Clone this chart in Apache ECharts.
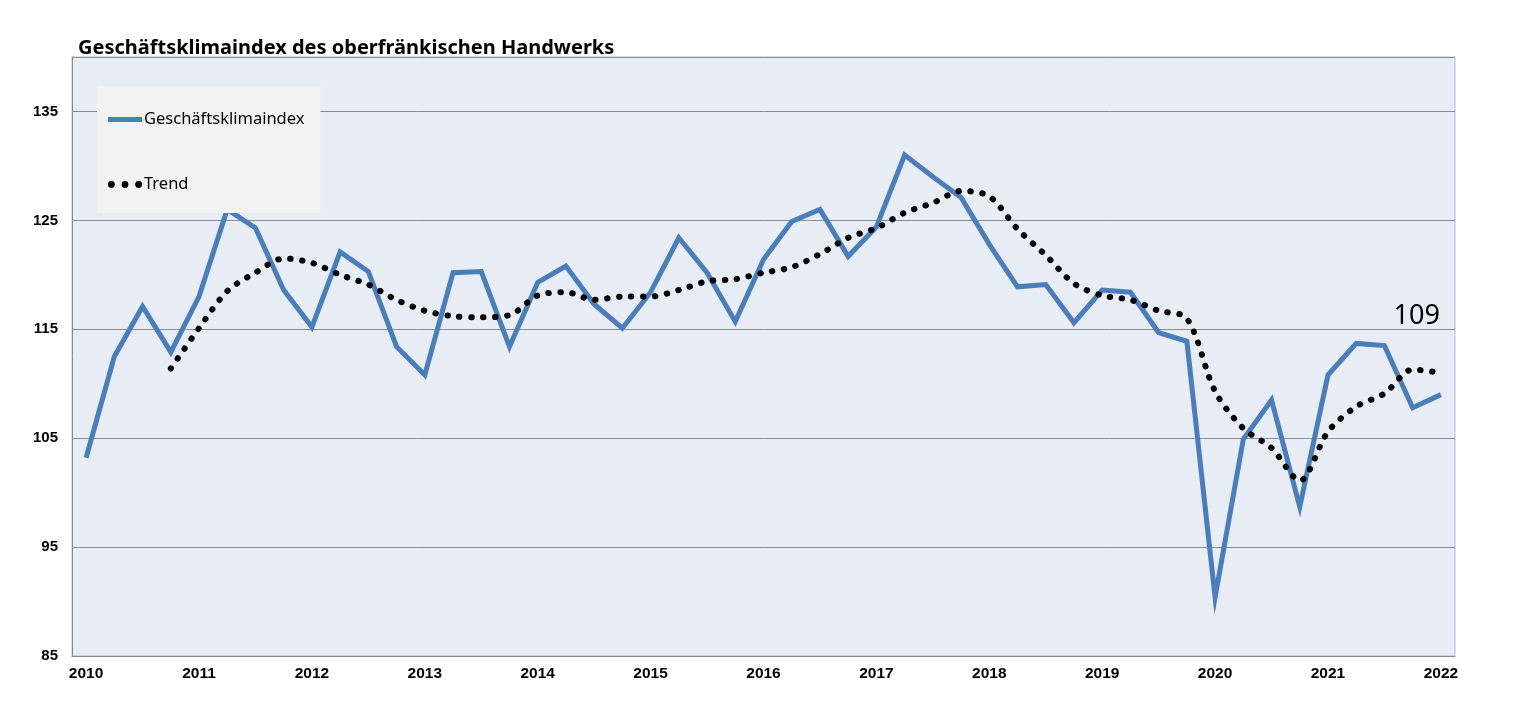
<!DOCTYPE html>
<html>
<head>
<meta charset="utf-8">
<script src="https://cdn.jsdelivr.net/npm/echarts@6/dist/echarts.min.js"></script>
<style>
html,body{margin:0;padding:0;background:#fff;}
#c{width:1520px;height:724px;}
</style>
</head>
<body>
<div id="c"></div>
<script>
const titleText = 'Geschäftsklimaindex des oberfränkischen Handwerks';
const seriesNames = ['Geschäftsklimaindex', 'Trend'];
const categories = [
  '2010 Q1','2010 Q2','2010 Q3','2010 Q4',
  '2011 Q1','2011 Q2','2011 Q3','2011 Q4',
  '2012 Q1','2012 Q2','2012 Q3','2012 Q4',
  '2013 Q1','2013 Q2','2013 Q3','2013 Q4',
  '2014 Q1','2014 Q2','2014 Q3','2014 Q4',
  '2015 Q1','2015 Q2','2015 Q3','2015 Q4',
  '2016 Q1','2016 Q2','2016 Q3','2016 Q4',
  '2017 Q1','2017 Q2','2017 Q3','2017 Q4',
  '2018 Q1','2018 Q2','2018 Q3','2018 Q4',
  '2019 Q1','2019 Q2','2019 Q3','2019 Q4',
  '2020 Q1','2020 Q2','2020 Q3','2020 Q4',
  '2021 Q1','2021 Q2','2021 Q3','2021 Q4',
  '2022 Q1'
];
const klimaindex = [103.2, 112.5, 117.1, 112.9, 118.0, 126.0, 124.3, 118.6, 115.2, 122.1, 120.3, 113.4,
  110.8, 120.2, 120.3, 113.4, 119.3, 120.8, 117.3, 115.1, 118.4, 123.4, 120.2, 115.7,
  121.4, 124.9, 126.0, 121.7, 124.4, 131.0, 129.0, 127.1, 122.8, 118.9, 119.1, 115.6,
  118.6, 118.4, 114.7, 113.9, 90.4, 104.9, 108.5, 98.7, 110.8, 113.7, 113.5, 107.8, 109.0];
const trend = [null, null, null, 111.4, 115.1, 118.5, 120.2, 121.5, 121.1, 120.0, 119.1, 117.7,
  116.7, 116.2, 116.1, 116.3, 118.1, 118.4, 117.7, 118.0, 118.0, 118.6, 119.4, 119.6,
  120.2, 120.7, 121.9, 123.4, 124.3, 125.7, 126.6, 127.7, 127.2, 124.2, 121.8, 119.2,
  118.1, 117.7, 116.7, 116.0, 109.3, 105.9, 104.1, 101.1, 105.6, 107.9, 109.1, 111.3, 111.0];
const yMin = 85, yMax = 140, yStep = 10;

const lastIdx = klimaindex.length - 1;
const dotsIcon = 'path://M3,3m-3,0a3,3 0 1,0 6,0a3,3 0 1,0 -6,0 M15,3m-3,0a3,3 0 1,0 6,0a3,3 0 1,0 -6,0 M27,3m-3,0a3,3 0 1,0 6,0a3,3 0 1,0 -6,0';
const chart = echarts.init(document.getElementById('c'));
chart.setOption({
  animation: false,
  backgroundColor: '#ffffff',
  title: {
    text: titleText,
    left: 73, top: 33,
    textStyle: {fontFamily: 'Noto Sans', fontWeight: 'bold', fontSize: 20, color: '#000'}
  },
  legend: {
    orient: 'vertical',
    left: 97, top: 86,
    backgroundColor: '#f2f2f2',
    padding: [25, 16, 20, 11],
    itemGap: 48,
    itemWidth: 34, itemHeight: 14,
    textStyle: {fontFamily: 'Noto Sans', fontSize: 16.5, color: '#000', padding: [0, 0, 0, -3]},
    data: [
      {name: seriesNames[0], icon: 'path://M0,0 L35,0 L35,5 L0,5 Z', itemStyle: {color: '#4a7ebb'}},
      {name: seriesNames[1], icon: dotsIcon, itemStyle: {color: '#000'}}
    ]
  },
  grid: {
    left: 72, right: 65, top: 57, bottom: 68,
    show: true, backgroundColor: '#e8ecf5', borderColor: '#a9bde0', borderWidth: 1
  },
  xAxis: {
    type: 'category',
    data: categories,
    boundaryGap: true,
    axisLine: {lineStyle: {color: '#8a8a8a', width: 1}},
    axisTick: {show: false},
    axisLabel: {
      interval: 3,
      margin: 10,
      formatter: v => v.slice(0, 4),
      fontFamily: 'Liberation Sans', fontWeight: 'bold', fontSize: 15.5, color: '#000'
    },
    splitLine: {show: false}
  },
  yAxis: {
    type: 'value',
    min: yMin, max: yMax, interval: yStep,
    axisLine: {show: true, lineStyle: {color: '#8a8a8a', width: 1}},
    axisTick: {show: false},
    axisLabel: {
      showMaxLabel: false,
      margin: 14,
      fontFamily: 'Liberation Sans', fontWeight: 'bold', fontSize: 15, color: '#000'
    },
    splitLine: {lineStyle: {color: '#8c8c8c', width: 1}}
  },
  series: [
    {
      name: seriesNames[0],
      type: 'line',
      data: klimaindex,
      symbol: 'none',
      z: 3,
      lineStyle: {color: '#4a7ebb', width: 5, join: 'miter'},
      itemStyle: {color: '#4a7ebb'},
      markPoint: {
        symbol: 'circle', symbolSize: 1,
        itemStyle: {color: 'rgba(0,0,0,0)'},
        label: {
          show: true, position: 'top', distance: 0, align: 'right',
          offset: [-1, -64],
          formatter: p => String(Math.round(p.value)),
          fontFamily: 'Noto Sans', fontSize: 27, color: '#000'
        },
        data: [{coord: [categories[lastIdx], klimaindex[lastIdx]], value: klimaindex[lastIdx]}]
      }
    },
    {
      name: seriesNames[1],
      type: 'line',
      data: trend,
      symbol: 'none',
      smooth: 0.3,
      z: 4,
      lineStyle: {color: '#000', width: 6, type: [0.5, 11.5], cap: 'round'},
      itemStyle: {color: '#000'}
    }
  ]
});
</script>
</body>
</html>
